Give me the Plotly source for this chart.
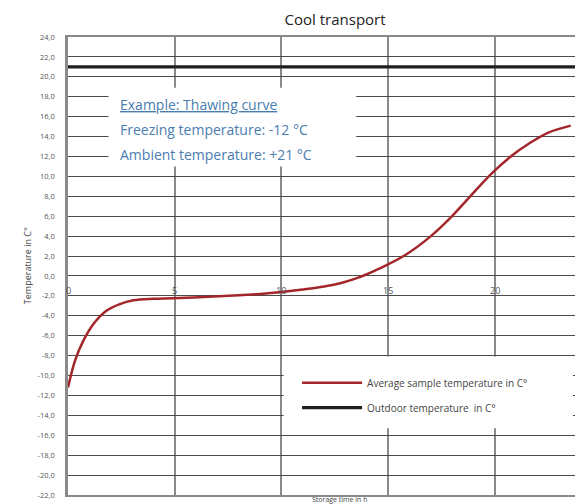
import plotly.graph_objects as go

# Data
time_h = [0, 0.33, 0.72, 1.2, 1.8, 2.4, 3.06, 4.0, 4.9, 6.6, 8.0, 9.0, 10.0, 11.0, 12.0, 12.8, 13.7, 14.6, 15.8, 17.0, 17.9, 18.8, 19.9, 20.8, 21.6, 22.5, 23.55]
sample_temp = [-11.2, -8.5, -6.5, -4.8, -3.5, -2.85, -2.45, -2.3, -2.25, -2.1, -1.95, -1.8, -1.6, -1.35, -1.05, -0.7, -0.1, 0.75, 2.1, 4.0, 5.8, 7.9, 10.4, 12.1, 13.3, 14.4, 15.1]
outdoor_time = [0, 24.6]
outdoor_temp = [21, 21]
y_ticks = list(range(24, -23, -2))
x_ticks = [0, 5, 10, 15, 20]

fig = go.Figure()
fig.add_trace(go.Scatter(x=time_h, y=sample_temp, mode="lines",
                         line=dict(color="#a3262a", width=2.5, shape="spline", smoothing=1.0),
                         name="Average sample temperature in C°", legendgroup="a"))
fig.add_trace(go.Scatter(x=outdoor_time, y=outdoor_temp, mode="lines", line=dict(color="#231f20", width=3.2),
                         name="Outdoor temperature  in C°", legendgroup="b"))

font_family = "Open Sans, Liberation Sans, Arial, sans-serif"

fig.update_layout(
    width=583, height=504,
    margin=dict(l=60, r=0, t=29, b=17, autoexpand=False),
    paper_bgcolor="white", plot_bgcolor="white",
    font=dict(family=font_family, color="#333"),
    showlegend=True,
    legend=dict(x=0.438, y=0.277, xanchor="left", yanchor="top", bgcolor="rgba(0,0,0,0)",
                font=dict(size=10, color="#444", family=font_family), itemwidth=60, tracegroupgap=6),
    title=dict(text="Cool transport", x=0.561, xanchor="center", y=0.976, yanchor="middle",
               font=dict(size=15, color="#222", family=font_family), automargin=False),
)
fig.update_xaxes(range=[0, 24.5], tickvals=x_ticks, showticklabels=False, showgrid=True, gridcolor="#8a8a8a", gridwidth=2,
                 zeroline=False, showline=True, linecolor="#8a8a8a", linewidth=2, mirror=True, fixedrange=True,
                 automargin=False)
fig.update_yaxes(range=[-22, 24], tickvals=y_ticks, ticktext=[f"{v:.1f}".replace(".", ",") for v in y_ticks],
                 tickfont=dict(size=7.5, color="#555"), ticks="", ticklabelstandoff=9, automargin=False,
                 showgrid=True, gridcolor="#4a4a4a", gridwidth=1.4, zeroline=False,
                 showline=True, linecolor="#8a8a8a", linewidth=2.5, mirror=True)

# white boxes
fig.add_shape(type="rect", xref="x", yref="y", x0=1.9, x1=13.5, y0=11.0, y1=18.9, fillcolor="white", line=dict(width=0), layer="between")
fig.add_shape(type="rect", xref="x", yref="y", x0=10.1, x1=23.65, y0=-15.3, y1=-8.1, fillcolor="white", line=dict(width=0), layer="between")

# x tick labels inside the plot
for xv in x_ticks:
    fig.add_annotation(x=xv, y=-1.45, xref="x", yref="y", text=str(xv), showarrow=False,
                       font=dict(size=9, color="#555", family=font_family))

# info text
info = ["<u>Example: Thawing curve</u>", "Freezing temperature: -12 °C", "Ambient temperature: +21 °C"]
for i, t in enumerate(info):
    fig.add_annotation(x=2.35, y=17.2 - i * 2.52, xref="x", yref="y", text=t, showarrow=False, xanchor="left",
                       font=dict(size=14, color="#4a7db0", family=font_family))

fig.add_annotation(x=-0.078, y=0.5, xref="paper", yref="paper", text="Temperature in C°", showarrow=False, textangle=-90,
                   xanchor="center", yanchor="middle", font=dict(size=9, color="#444", family=font_family))
fig.add_annotation(x=0.52, y=0.0, xref="paper", yref="paper", text="Storage time in h", showarrow=False, yanchor="top",
                   yshift=2, font=dict(size=7, color="#444", family=font_family))

fig.write_html("out.html")
